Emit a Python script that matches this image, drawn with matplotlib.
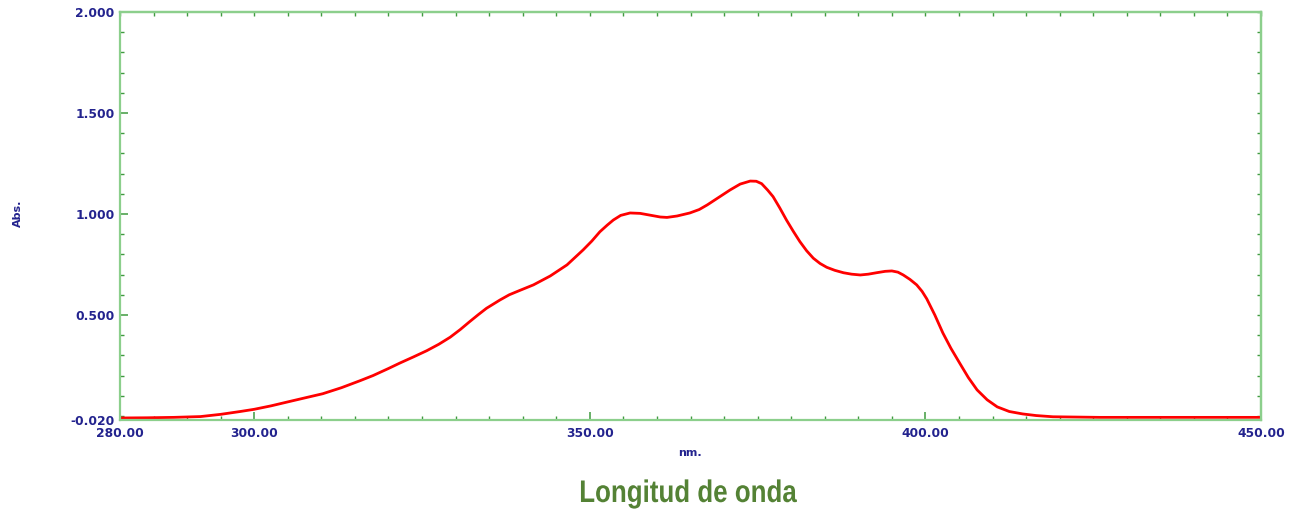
import matplotlib
matplotlib.use("Agg")
import matplotlib.pyplot as plt
from matplotlib.ticker import MultipleLocator, FixedLocator
from matplotlib.patheffects import AbstractPathEffect
from matplotlib.transforms import Affine2D

# Spectrum
wavelength = [280.0, 284.0, 288.0, 292.0, 295.0, 297.9, 300.0, 302.5, 305.3, 308.0,
              310.2, 313.0, 315.8, 317.7, 320.0, 321.7, 323.7, 325.7, 327.5, 329.2,
              330.7, 332.1, 333.4, 334.6, 336.6, 338.0, 339.6, 341.6, 344.1, 346.6,
              349.0, 350.3, 351.5, 352.6, 353.5, 354.6, 356.0, 357.5, 359.0, 360.5,
              361.5, 363.0, 364.9, 366.3, 367.5, 369.2, 370.9, 372.4, 373.9, 374.8,
              375.6, 376.5, 377.3, 378.3, 379.3, 380.3, 381.3, 382.3, 383.3, 384.3,
              385.3, 386.5, 387.8, 389.0, 390.3, 391.5, 392.7, 394.0, 395.0, 395.9,
              396.7, 397.7, 398.7, 399.5, 400.2, 401.4, 402.6, 403.8, 405.1, 406.4,
              407.7, 409.2, 410.7, 412.5, 414.5, 416.5, 419.0, 426.0, 435.0, 450.0]
absorbance = [-0.010, -0.009, -0.007, -0.003, 0.008, 0.022, 0.033, 0.050, 0.072, 0.093,
              0.110, 0.140, 0.175, 0.200, 0.235, 0.262, 0.292, 0.323, 0.355, 0.390,
              0.428, 0.467, 0.502, 0.533, 0.574, 0.600, 0.622, 0.649, 0.693, 0.748,
              0.822, 0.866, 0.912, 0.945, 0.970, 0.993, 1.005, 1.003, 0.994, 0.985,
              0.983, 0.990, 1.005, 1.022, 1.045, 1.082, 1.119, 1.148, 1.163, 1.162,
              1.150, 1.118, 1.086, 1.030, 0.970, 0.915, 0.863, 0.818, 0.781, 0.755,
              0.736, 0.721, 0.709, 0.702, 0.698, 0.702, 0.709, 0.716, 0.718, 0.712,
              0.698, 0.676, 0.649, 0.617, 0.580, 0.500, 0.411, 0.335, 0.262, 0.190,
              0.129, 0.080, 0.045, 0.022, 0.010, 0.002, -0.004, -0.007, -0.007, -0.007]

x_ticks = [280, 300, 350, 400, 450]
x_tick_labels = ["280.00", "300.00", "350.00", "400.00", "450.00"]
y_ticks = [-0.02, 0.5, 1.0, 1.5, 2.0]
y_tick_labels = ["-0.020", "0.500", "1.000", "1.500", "2.000"]

navy = "#23238e"
frame_green = "#8ccf8c"
tick_green = "#3f9a3f"

W, H = 1294, 514
fig = plt.figure(figsize=(W / 100, H / 100), dpi=100)
ax = fig.add_axes([120/W, 1-420/H, (1261-120)/W, (420-12)/H])

ax.plot(wavelength, absorbance, color="#ff0000", lw=2.0,
        solid_joinstyle="round", solid_capstyle="round")

ax.set_xlim(280, 450)
ax.set_ylim(-0.02, 2.0)
ax.xaxis.set_major_locator(FixedLocator(x_ticks))
ax.set_xticklabels(x_tick_labels)
ax.yaxis.set_major_locator(FixedLocator(y_ticks))
ax.set_yticklabels(y_tick_labels)
ax.xaxis.set_minor_locator(MultipleLocator(5))
ax.yaxis.set_minor_locator(MultipleLocator(0.1))

for sp in ax.spines.values():
    sp.set_color(frame_green)
    sp.set_linewidth(1.6)

ax.tick_params(which="major", direction="in", length=6, width=1.1, color=tick_green,
               labelcolor=navy, labelsize=8.8, pad=5)
ax.tick_params(which="minor", direction="in", length=3, width=1.0, color=tick_green)
for lab in ax.get_xticklabels() + ax.get_yticklabels():
    lab.set_fontweight("bold")
    lab.set_family("DejaVu Sans")
ax.tick_params(axis="y", pad=4)

# top / right small ticks
top = ax.secondary_xaxis("top")
top.xaxis.set_major_locator(MultipleLocator(5))
top.tick_params(direction="in", length=3, width=1.0, color=tick_green, labeltop=False)
top.spines["top"].set_color(frame_green)
top.spines["top"].set_linewidth(1.6)
right = ax.secondary_yaxis("right")
right.yaxis.set_major_locator(MultipleLocator(0.1))
right.tick_params(direction="in", length=3, width=1.0, color=tick_green, labelright=False)
right.spines["right"].set_color(frame_green)
right.spines["right"].set_linewidth(1.6)

fig.text(18/W, 1-213/H, "Abs.", rotation=90, ha="center", va="center",
         color=navy, fontsize=8, fontweight="bold", family="DejaVu Sans")
fig.text(690/W, 1-453/H, "nm.", ha="center", va="center",
         color=navy, fontsize=8, fontweight="bold", family="DejaVu Sans")


class HSqueeze(AbstractPathEffect):
    """Narrow the glyph outlines horizontally around a centre (condensed look)."""
    def __init__(self, sx, cx):
        super().__init__()
        self.sx = sx
        self.cx = cx

    def draw_path(self, renderer, gc, tpath, affine, rgbFace=None):
        squeeze = Affine2D().translate(-self.cx, 0).scale(self.sx, 1).translate(self.cx, 0)
        renderer.draw_path(gc, tpath, affine + squeeze, rgbFace)


title_cx = 688
fig.text(title_cx/W, 1-494/H, "Longitud de onda", ha="center", va="center",
         color="#548235", fontsize=22.5, fontweight="bold",
         family=["Liberation Sans", "DejaVu Sans"],
         path_effects=[HSqueeze(0.83, title_cx)])

fig.savefig("out.png", dpi=100, facecolor="white")
